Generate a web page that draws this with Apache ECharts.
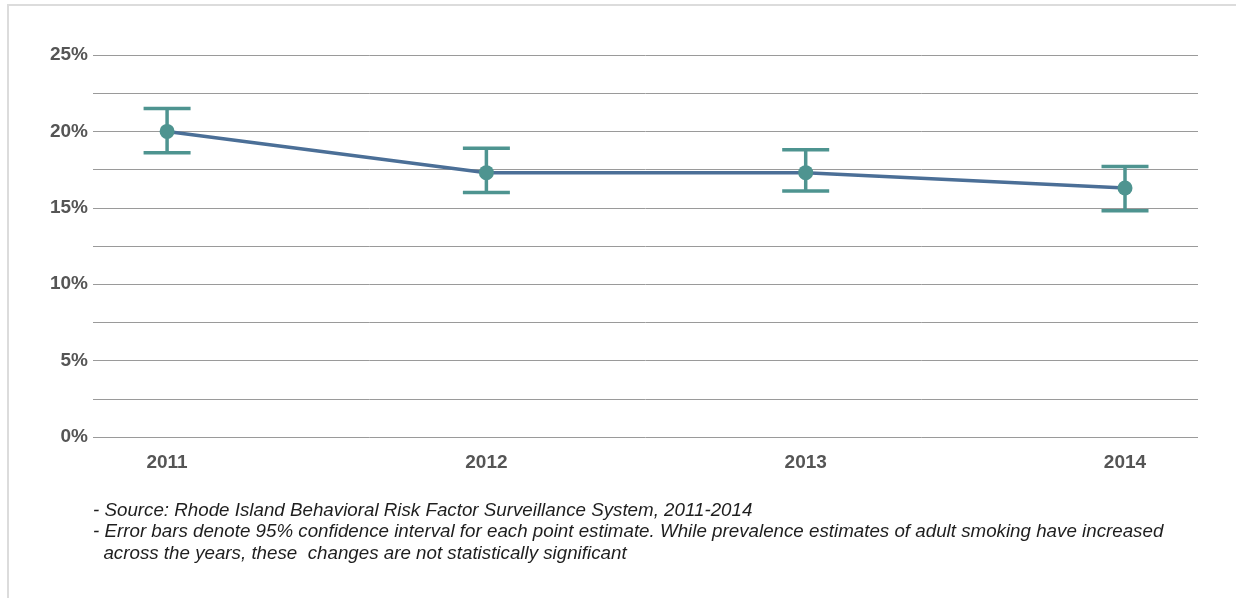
<!DOCTYPE html>
<html>
<head>
<meta charset="utf-8">
<script src="https://cdn.jsdelivr.net/npm/echarts@6/dist/echarts.min.js"></script>
<style>
  html, body { margin: 0; padding: 0; background: #fff; }
  #frame { position: absolute; left: 7px; top: 4px; right: 0; bottom: 0;
           border-left: 2px solid #dcdcdc; border-top: 2px solid #dcdcdc; }
  #chart { position: absolute; left: 0; top: 0; width: 1236px; height: 598px; }
</style>
</head>
<body>
<div id="frame"></div>
<div id="chart"></div>
<script>
// Adult smoking prevalence in Rhode Island, with 95% confidence intervals
const years = [2011, 2012, 2013, 2014];
const prevalence = [20.0, 17.3, 17.3, 16.3];
const ciLower = [18.6, 16.0, 16.1, 14.8];
const ciUpper = [21.5, 18.9, 18.8, 17.7];
const yTicks = [0, 5, 10, 15, 20, 25];
const notes = [
  '- Source: Rhode Island Behavioral Risk Factor Surveillance System, 2011-2014',
  '- Error bars denote 95% confidence interval for each point estimate. While prevalence estimates of adult smoking have increased',
  '  across the years, these  changes are not statistically significant'
];

const lineColor = '#4b6f97';
const markColor = '#4e9490';
const labelColor = '#555555';

const pointData = years.map((y, i) => [y, prevalence[i]]);
const barData = years.map((y, i) => [y, ciLower[i], ciUpper[i]]);

const chart = echarts.init(document.getElementById('chart'), null, { renderer: 'canvas' });

chart.setOption({
  animation: false,
  grid: { left: 93, right: 38, top: 55, bottom: 161, containLabel: false },
  xAxis: {
    type: 'value',
    min: 2010.768,
    max: 2014.2286,
    axisLine: { show: false },
    axisTick: { show: false },
    splitLine: { show: false },
    axisLabel: {
      customValues: years,
      formatter: v => String(Math.round(v)),
      margin: 16,
      fontFamily: 'Liberation Sans, Arial, sans-serif',
      fontWeight: 'bold',
      fontSize: 19,
      color: labelColor
    }
  },
  yAxis: {
    type: 'value',
    min: 0,
    max: 25,
    interval: 2.5,
    axisLine: { show: false },
    axisTick: { show: false },
    splitLine: { lineStyle: { color: '#9a9a9a', width: 1 } },
    axisLabel: {
      margin: 5,
      formatter: v => yTicks.includes(v) ? v + '%' : '',
      fontFamily: 'Liberation Sans, Arial, sans-serif',
      fontWeight: 'bold',
      fontSize: 19,
      color: labelColor
    }
  },
  series: [
    {
      type: 'line',
      data: pointData,
      z: 2,
      symbol: 'none',
      lineStyle: { color: lineColor, width: 3.5 }
    },
    {
      type: 'custom',
      z: 3,
      data: barData,
      renderItem: function (params, api) {
        const x = api.value(0);
        const lo = api.coord([x, api.value(1)]);
        const hi = api.coord([x, api.value(2)]);
        const half = 23.5;
        const style = { stroke: markColor, lineWidth: 3.5 };
        return {
          type: 'group',
          children: [
            { type: 'line', shape: { x1: hi[0], y1: hi[1], x2: lo[0], y2: lo[1] }, style },
            { type: 'line', shape: { x1: hi[0] - half, y1: hi[1], x2: hi[0] + half, y2: hi[1] }, style },
            { type: 'line', shape: { x1: lo[0] - half, y1: lo[1], x2: lo[0] + half, y2: lo[1] }, style }
          ]
        };
      }
    },
    {
      type: 'scatter',
      z: 4,
      data: pointData,
      symbol: 'circle',
      symbolSize: 15,
      itemStyle: { color: markColor, opacity: 1 }
    }
  ],
  graphic: notes.map((t, i) => ({
    type: 'text',
    left: 93,
    top: 501 + i * 21.5,
    style: {
      text: t,
      font: 'italic 18.75px "Liberation Sans", Arial, sans-serif',
      fill: '#1e1e1e'
    }
  }))
});
</script>
</body>
</html>
